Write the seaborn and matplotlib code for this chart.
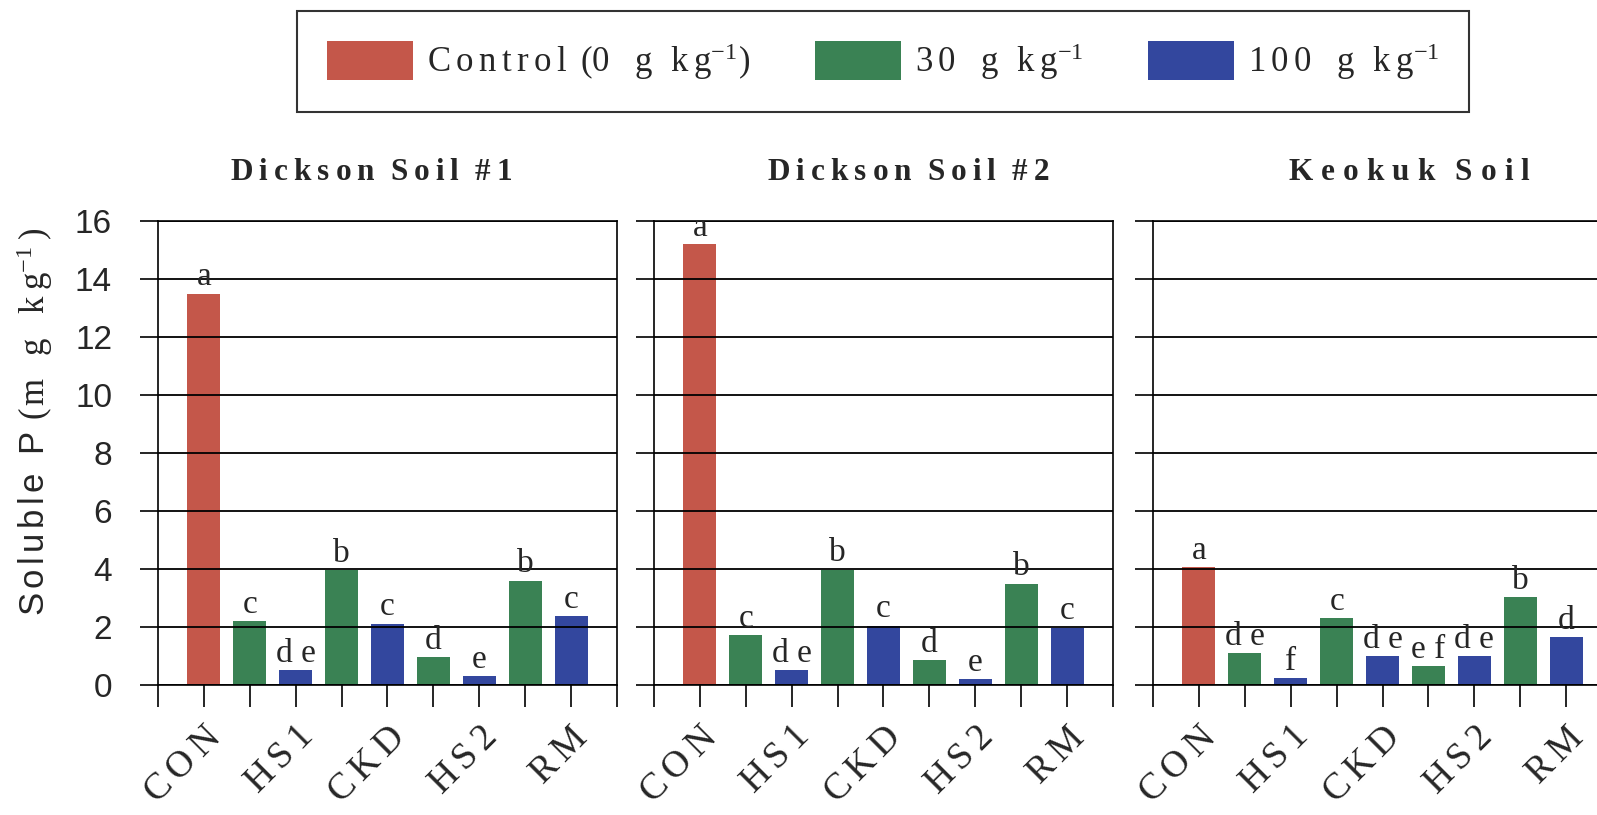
import matplotlib
matplotlib.use("Agg")
import matplotlib.pyplot as plt
import seaborn as sns
import pandas as pd
from matplotlib.patches import Patch

# ---------------- data ----------------
bar_ids = ["CON", "HS1-30", "HS1-100", "CKD-30", "CKD-100", "HS2-30", "HS2-100", "RM-30", "RM-100"]
bar_rates = ["Control", "30", "100", "30", "100", "30", "100", "30", "100"]
tick_labels = ["CON", "HS1", "CKD", "HS2", "RM"]

panel_titles = ["Dickson Soil #1", "Dickson Soil #2", "Keokuk Soil"]

dickson1_values = [13.5, 2.2, 0.52, 3.97, 2.12, 0.95, 0.3, 3.6, 2.38]
dickson2_values = [15.2, 1.72, 0.53, 3.98, 2.05, 0.86, 0.2, 3.5, 1.98]
keokuk_values = [4.06, 1.1, 0.24, 2.3, 1.0, 0.66, 1.0, 3.03, 1.64]

dickson1_letters = ["a", "c", "de", "b", "c", "d", "e", "b", "c"]
dickson2_letters = ["a", "c", "de", "b", "c", "d", "e", "b", "c"]
keokuk_letters = ["a", "de", "f", "c", "de", "ef", "de", "b", "d"]

rate_order = ["Control", "30", "100"]
palette = {"Control": "#C4574A", "30": "#3A8254", "100": "#33479E"}

SERIF = ["Liberation Serif", "DejaVu Serif"]
SANS = ["Liberation Sans", "DejaVu Sans"]
ESC = {"#": r"\#"}


def hs(x):
    return r"\hspace{%.2f}" % x


def sp(word, gap, font="mathrm"):
    """letter-spaced word as mathtext (no dollars)"""
    return hs(gap).join(r"\%s{%s}" % (font, ESC.get(c, c)) for c in word)


def spaced_title(text, gap, wgap):
    return "$" + hs(wgap).join(sp(w, gap, "mathbf") for w in text.split(" ")) + "$"


SUP = r"^{\mathrm{-1}}"
legend_labels = {
    "Control": "$" + sp("Control", 0.22) + hs(0.55) + sp("(0", 0.0) + hs(1.0) + sp("g", 0)
               + hs(0.75) + sp("kg", 0.22) + SUP + hs(0.05) + r"\mathrm{)}" + "$",
    "30": "$" + sp("30", 0.22) + hs(1.0) + sp("g", 0) + hs(0.75) + sp("kg", 0.22) + SUP + "$",
    "100": "$" + sp("100", 0.22) + hs(1.0) + sp("g", 0) + hs(0.75) + sp("kg", 0.22) + SUP + "$",
}

# ---------------- style ----------------
sns.set_theme(style="white")
plt.rcParams["font.family"] = SERIF
plt.rcParams["mathtext.fontset"] = "custom"
plt.rcParams["mathtext.rm"] = "Liberation Serif"
plt.rcParams["mathtext.it"] = "Liberation Serif:italic"
plt.rcParams["mathtext.bf"] = "Liberation Serif:bold"
plt.rcParams["mathtext.sf"] = "Liberation Sans"
plt.rcParams["mathtext.default"] = "rm"

fig = plt.figure(figsize=(15.97, 8.15), dpi=100)
fig.patch.set_facecolor("white")

bottom = 0.1595
height = 0.5693
width = 0.2874
lefts = [0.0989, 0.4095, 0.7220]
title_x = [0.2323, 0.5686, 0.8823]
title_gaps = [(0.27, 0.7), (0.27, 0.7), (0.36, 0.9)]

panels = [
    (dickson1_values, dickson1_letters),
    (dickson2_values, dickson2_letters),
    (keokuk_values, keokuk_letters),
]

for k, (vals, letters) in enumerate(panels):
    ax = fig.add_axes([lefts[k], bottom, width, height])
    df = pd.DataFrame({"bar": bar_ids, "rate": bar_rates, "value": vals})
    sns.barplot(
        data=df, x="bar", y="value", hue="rate", order=bar_ids,
        hue_order=rate_order, palette=palette, dodge=False,
        width=0.72, saturation=1, linewidth=0, legend=False, ax=ax,
        errorbar=None,
    )
    ax.set_xlim(-1, 9)
    ax.set_ylim(0, 16)
    ax.set_yticks(range(0, 17, 2))
    ax.set_xticks(range(-1, 10))
    lab = [""] * 11
    for j, t in enumerate(tick_labels):
        lab[1 + 2 * j] = "$" + sp(t, 0.25) + "$"
    ax.set_xticklabels(lab, rotation=45, ha="right", rotation_mode="anchor",
                       fontsize=27)
    ax.set_xlabel("")
    ax.set_ylabel("")
    ax.set_axisbelow(False)
    ax.grid(axis="y", color="black", linewidth=1.3)
    ax.grid(axis="x", visible=False)
    for s in ["left", "right", "bottom", "top"]:
        ax.spines[s].set_visible(True)
        ax.spines[s].set_color("black")
        ax.spines[s].set_linewidth(1.2)
    ax.tick_params(axis="x", direction="out", length=16, width=1.2, color="black",
                   bottom=True, pad=9)
    ax.tick_params(axis="y", direction="out", length=13, width=1.2, color="black",
                   left=True, pad=20, labelsize=24)
    if k == 0:
        for t in ax.get_yticklabels():
            t.set_family(SANS)
    else:
        ax.tick_params(axis="y", labelleft=False)

    for i, (v, l) in enumerate(zip(vals, letters)):
        ax.text(i, v + 0.28, " ".join(l), ha="center", va="baseline", fontsize=24,
                family=SERIF)

    g, wg = title_gaps[k]
    fig.text(title_x[k], 1 - 173 / 815, spaced_title(panel_titles[k], g, wg), ha="center",
             va="center", fontsize=22.5)

# y label: sans "Soluble P" + serif unit, one string
ylab = ("$" + sp("Soluble", 0.18, "mathsf") + hs(0.75) + r"\mathsf{P}" + hs(0.45)
        + r"\mathrm{(}" + hs(0.1) + r"\mathrm{m}" + hs(0.9) + r"\mathrm{g}" + hs(1.0)
        + sp("kg", 0.25) + SUP + hs(0.25) + r"\mathrm{)}" + "$")
fig.text(35 / 1597, 1 - 422 / 815, ylab, rotation=90, ha="center", va="center", fontsize=25)

# legend
handles = [Patch(facecolor=palette[r], edgecolor="none", label=legend_labels[r])
           for r in rate_order]
leg = fig.legend(handles=handles, loc="center", bbox_to_anchor=(883 / 1597, 1 - 61.5 / 815),
                 ncol=3, fontsize=25, frameon=True, fancybox=False, edgecolor="black",
                 handlelength=2.48, handleheight=1.35, handletextpad=0.4,
                 columnspacing=1.85, borderpad=0.85, borderaxespad=0)
leg.get_frame().set_linewidth(1.5)

fig.savefig("out.png", dpi=100, facecolor="white")
